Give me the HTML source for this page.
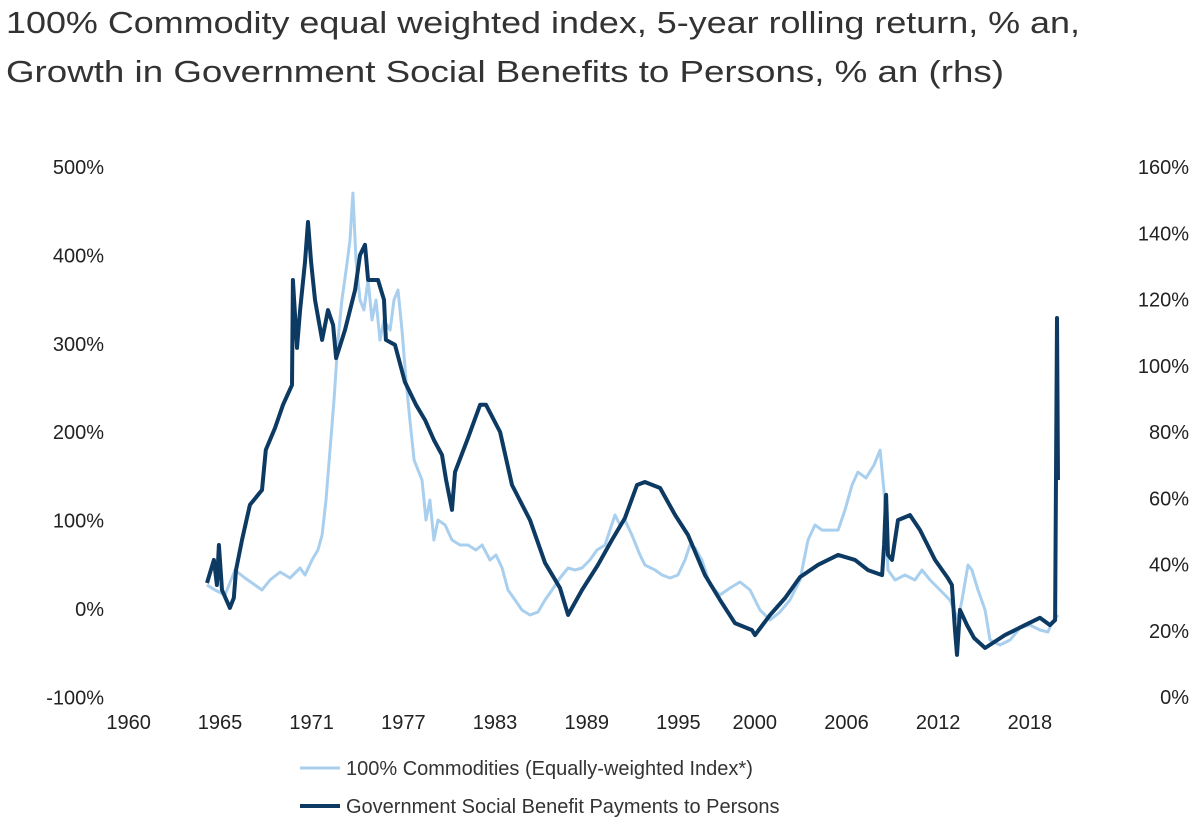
<!DOCTYPE html>
<html><head><meta charset="utf-8"><style>
html,body{margin:0;padding:0;background:#fff;}
svg{display:block;font-family:"Liberation Sans",Arial,sans-serif;}
</style></head><body>
<svg id="chart" width="1200" height="834" viewBox="0 0 1200 834" xmlns="http://www.w3.org/2000/svg">
<text x="6" y="33" font-size="31" fill="#333" textLength="1074" lengthAdjust="spacingAndGlyphs">100% Commodity equal weighted index, 5-year rolling return, % an,</text>
<text x="6" y="82" font-size="31" fill="#333" textLength="998" lengthAdjust="spacingAndGlyphs">Growth in Government Social Benefits to Persons, % an (rhs)</text>
<g id="left-axis"></g>
<g id="right-axis"></g>
<g id="x-axis"></g>
<g id="series"></g>
<g>
<line x1="300" y1="768" x2="340" y2="768" stroke="#a9cfee" stroke-width="3"/>
<text x="346" y="775" font-size="20" fill="#333">100% Commodities (Equally-weighted Index*)</text>
<line x1="300" y1="806" x2="340" y2="806" stroke="#0d3a63" stroke-width="4"/>
<text x="346" y="813" font-size="20" fill="#333">Government Social Benefit Payments to Persons</text>
</g>
</svg>
<script>
const leftTicks=[500,400,300,200,100,0,-100];
const rightTicks=[160,140,120,100,80,60,40,20,0];
const xTickYears=[1960,1965,1971,1977,1983,1989,1995,2000,2006,2012,2018];
const commYears=[1964.15,1964.67,1965.33,1965.98,1966.63,1967.29,1967.75,1968.27,1968.93,1969.58,1970.24,1970.56,1971.02,1971.41,1971.68,1971.94,1972.2,1972.46,1972.72,1972.98,1973.25,1973.51,1973.7,1973.9,1974.16,1974.42,1974.69,1974.95,1975.21,1975.47,1975.73,1976.13,1976.39,1976.65,1976.91,1977.17,1977.43,1977.7,1977.96,1978.22,1978.48,1978.74,1979.0,1979.27,1979.73,1980.18,1980.71,1981.23,1981.75,1982.15,1982.67,1983.06,1983.46,1983.85,1984.31,1984.76,1985.29,1985.81,1986.27,1986.73,1987.25,1987.78,1988.23,1988.69,1989.21,1989.67,1990.2,1990.52,1990.85,1991.18,1991.5,1991.96,1992.49,1992.81,1993.47,1993.93,1994.45,1994.97,1995.43,1995.76,1996.09,1996.54,1997.07,1997.72,1998.38,1999.03,1999.69,2000.34,2001.0,2001.65,2002.3,2002.96,2003.48,2003.94,2004.4,2005.45,2005.9,2006.36,2006.75,2007.28,2007.8,2008.2,2008.46,2008.72,2009.18,2009.83,2010.48,2010.94,2011.47,2012.12,2012.77,2013.3,2013.56,2013.95,2014.21,2014.61,2015.07,2015.39,2016.05,2016.7,2017.36,2018.01,2018.66,2019.19,2019.45,2019.84];
const commValues=[27.1,21.5,15.8,44.1,35.1,27.1,21.5,32.8,41.8,35.1,46.4,38.5,55.4,66.7,83.7,123.3,179.8,236.4,304.2,349.5,383.4,417.3,470.5,394.7,349.5,338.2,372.1,326.9,349.5,304.2,326.9,315.5,349.5,360.8,315.5,259.0,213.8,168.5,157.2,145.9,100.7,123.3,78.0,100.7,95.0,78.0,72.4,72.4,66.7,72.4,55.4,61.1,46.4,21.5,10.2,-1.1,-6.8,-3.4,10.2,21.5,35.1,46.4,44.1,46.4,55.4,66.7,72.4,89.3,106.3,95.0,100.7,83.7,61.1,49.8,44.1,38.5,35.1,38.5,55.4,72.4,69.0,55.4,27.1,15.8,23.8,30.5,21.5,-1.1,-12.4,-3.4,10.2,32.8,78.0,95.0,89.3,89.3,112.0,140.2,154.9,148.2,162.9,179.8,132.3,44.1,32.8,38.5,32.8,44.1,32.8,21.5,10.2,-12.4,10.2,49.8,44.1,21.5,-1.1,-35.1,-40.7,-35.1,-21.5,-18.1,-23.8,-26.0,-14.7,-6.8];
const benYears=[1964.15,1964.6,1964.8,1964.93,1965.13,1965.65,1965.9,1966.05,1966.44,1966.96,1967.75,1968.0,1968.6,1969.12,1969.71,1969.77,1970.04,1970.24,1970.56,1970.76,1970.96,1971.22,1971.68,1972.07,1972.4,1972.6,1973.18,1973.84,1974.16,1974.49,1974.69,1975.34,1975.73,1975.86,1976.45,1977.1,1977.83,1978.42,1979.0,1979.53,1979.8,1980.18,1980.38,1981.23,1982.02,1982.41,1983.33,1984.11,1985.29,1986.27,1987.25,1987.78,1988.69,1989.74,1990.65,1991.5,1992.29,1992.81,1993.8,1994.78,1995.63,1996.74,1997.72,1998.7,1999.82,2000.01,2001.0,2001.98,2002.96,2004.14,2005.45,2006.56,2007.41,2008.33,2008.46,2008.59,2008.72,2008.98,2009.37,2010.16,2010.81,2011.79,2012.64,2012.9,2013.1,2013.23,2013.43,2013.89,2014.35,2015.07,2016.37,2017.68,2018.66,2019.32,2019.65,2019.78,2019.84];
const benValues=[34.4,41.4,33.8,45.9,32.3,26.9,29.9,38.3,47.4,58.0,62.5,74.6,81.2,88.2,94.2,125.9,105.4,116.8,131.3,143.4,131.3,119.9,107.8,116.8,112.3,102.3,110.8,122.9,133.4,136.5,125.9,125.9,119.9,107.8,106.3,95.1,88.2,83.6,77.6,73.1,65.5,56.5,67.9,78.2,88.2,88.2,80.0,64.0,53.4,40.5,32.9,24.8,32.3,39.9,47.4,54.0,64.0,64.9,63.1,55.0,48.9,36.8,29.3,22.3,20.2,18.7,24.8,29.9,36.2,39.9,42.9,41.4,38.3,36.8,45.9,61.0,42.9,41.4,53.4,54.9,50.4,41.4,35.9,33.8,20.2,12.7,26.3,21.7,17.8,14.8,18.7,21.7,23.9,21.7,23.2,114.4,65.5];

const NS="http://www.w3.org/2000/svg";
const xS=y=>220+(y-1965)*15.28;
const yL=v=>609-v*0.884;
const yR=v=>697-v*3.3125;
function mk(tag,attrs,parent,txt){const e=document.createElementNS(NS,tag);for(const k in attrs)e.setAttribute(k,attrs[k]);if(txt!==undefined)e.textContent=txt;parent.appendChild(e);return e;}
const la=document.getElementById('left-axis'),ra=document.getElementById('right-axis'),xa=document.getElementById('x-axis'),sg=document.getElementById('series');
leftTicks.forEach(v=>{const t=mk('text',{x:104,y:yL(v)+7,'font-size':20,fill:'#222','text-anchor':'end'},la,v+'%');

});
rightTicks.forEach(v=>{const t=mk('text',{x:1189,y:yR(v)+7,'font-size':20,fill:'#222','text-anchor':'end'},ra,v+'%');

});
xTickYears.forEach(yr=>{const t=mk('text',{x:xS(yr)+(yr===1960?-15:0),y:729,'font-size':20,fill:'#222','text-anchor':'middle'},xa,String(yr));

});
function pts(xs,vs,f){return xs.map((x,i)=>xS(x).toFixed(1)+','+f(vs[i]).toFixed(1)).join(' ');}
const l1=mk('polyline',{points:pts(commYears,commValues,yL),fill:'none',stroke:'#a9cfee','stroke-width':3,'stroke-linejoin':'round'},sg);


const l2=mk('polyline',{points:pts(benYears,benValues,yR),fill:'none',stroke:'#0d3a63','stroke-width':4,'stroke-linejoin':'round'},sg);


</script>
</body></html>
